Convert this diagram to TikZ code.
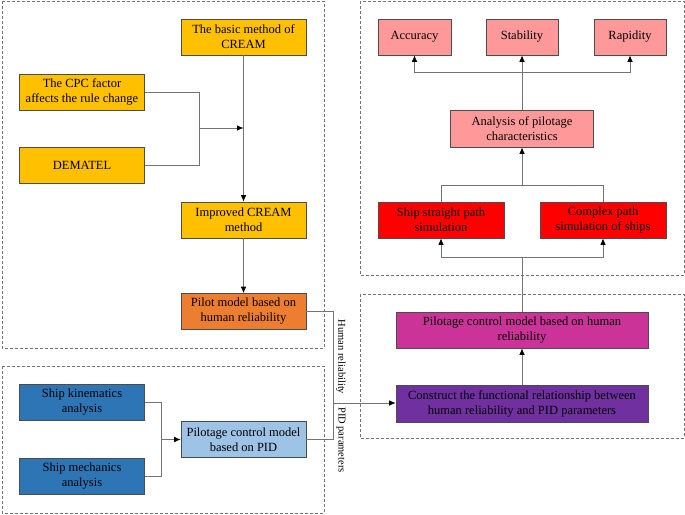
\documentclass[tikz,border=0pt]{standalone}
\usepackage{fontspec}
\setmainfont{Liberation Serif}
\usetikzlibrary{arrows.meta}
\definecolor{creamyellow}{HTML}{FFC000}
\definecolor{pilotorange}{HTML}{ED7D31}
\definecolor{shipblue}{HTML}{2E75B6}
\definecolor{pidblue}{HTML}{9DC3E6}
\definecolor{evalpink}{HTML}{FF9999}
\definecolor{simred}{HTML}{FF0000}
\definecolor{modelmagenta}{HTML}{CC3399}
\definecolor{funcpurple}{HTML}{7030A0}
\tikzstyle{block}=[draw=black!70, line width=0.6pt, inner sep=0, minimum width=125pt, minimum height=36pt, align=center, font=\fontsize{12.5}{15}\selectfont]
\tikzstyle{wideblock}=[block, minimum width=252pt]
\tikzstyle{smallblock}=[block, minimum width=72pt]
\tikzstyle{link}=[draw=black!55, line width=0.8pt]
\tikzstyle{arrow}=[link, -{Latex[length=6.5pt, width=5.5pt, black]}]
\tikzstyle{group}=[draw=black!55, line width=0.6pt, dash pattern=on 3pt off 2pt]
\tikzstyle{sidelabel}=[rotate=-90, inner sep=0, font=\fontsize{10.5}{12}\selectfont]

\begin{document}
\begin{tikzpicture}[x=1pt, y=-1pt]
    \useasboundingbox (0, 0) rectangle (685, 514);
    % dashed groups
    \draw[group] (2, 1) rectangle (324, 348);
    \draw[group] (2, 366) rectangle (324, 513);
    \draw[group] (360, 1) rectangle (684, 275);
    \draw[group] (360, 294) rectangle (684, 438);
    % left part
    \node[block, fill=creamyellow]  (basic)    at (243.5, 37)    {The basic method of\\CREAM};
    \node[block, fill=creamyellow]  (cpc)      at (82, 92)       {The CPC factor\\affects the rule change};
    \node[block, fill=creamyellow]  (dematel)  at (82, 165)      {DEMATEL};
    \node[block, fill=creamyellow]  (improved) at (243.5, 220)   {Improved CREAM\\method};
    \node[block, fill=pilotorange]  (pilot)    at (243.5, 311.5) {Pilot model based on\\human reliability};
    \node[block, fill=shipblue]     (kin)      at (82, 402.5)    {Ship kinematics\\analysis};
    \node[block, fill=shipblue]     (mech)     at (82, 476)      {Ship mechanics\\analysis};
    \node[block, fill=pidblue]      (pid)      at (243.5, 439.5) {Pilotage control model\\based on PID};
    % right part
    \node[smallblock, fill=evalpink, minimum width=73pt] (acc)  at (414.5, 37) {Accuracy};
    \node[smallblock, fill=evalpink] (stab)     at (522, 37)      {Stability};
    \node[smallblock, fill=evalpink] (rap)      at (630, 37)      {Rapidity};
    \node[block, fill=evalpink, minimum width=143pt, minimum height=37pt] (analysis) at (522, 128.5) {Analysis of pilotage\\characteristics};
    \node[block, fill=simred, minimum width=126pt] (straight) at (441, 220) {Ship straight path\\simulation};
    \node[block, fill=simred, minimum width=126pt] (complex)  at (603, 220) {Complex path\\simulation of ships};
    \node[wideblock, fill=modelmagenta] (hmodel) at (522, 330) {Pilotage control model based on human\\reliability};
    \node[wideblock, fill=funcpurple, minimum height=37pt] (func) at (522, 403.5) {Construct the functional relationship between\\human reliability and PID parameters};
    % side labels
    \node[sidelabel] (hrlabel)  at (341, 357) {Human reliability};
    \node[sidelabel] (pidlabel) at (341, 440) {PID parameters};
    % junctions
    \coordinate (j1) at (199, 128);
    \coordinate (j2) at (161, 439.5);
    \coordinate (hr) at (333, 403);
    \coordinate (j3) at (522, 257);
    \coordinate (j4) at (522, 185);
    \coordinate (j5) at (522, 72);
    % connectors
    \draw[arrow] (basic) -- (improved);
    \draw[arrow] (improved) -- (pilot);
    \draw[link] (cpc.east) -| (j1);
    \draw[link] (dematel.east) -| (j1);
    \draw[arrow] (j1) -- (j1 -| basic.south);
    \draw[link] (kin.east) -| (j2);
    \draw[link] (mech.east) -| (j2);
    \draw[arrow] (j2) -- (pid.west);
    \draw[link] (pilot.east) -| (hr);
    \draw[link] (pid.east) -| (hr);
    \draw[arrow] (hr) -- (hr -| func.west);
    \draw[arrow] (func) -- (hmodel);
    \draw[link] (hmodel.north) -- (j3);
    \draw[arrow] (j3) -| (straight.south);
    \draw[arrow] (j3) -| (complex.south);
    \draw[link] (straight.north) |- (j4);
    \draw[link] (complex.north) |- (j4);
    \draw[arrow] (j4) -- (analysis.south);
    \draw[link] (analysis.north) -- (j5);
    \draw[arrow] (j5) -| (acc.south);
    \draw[arrow] (j5) -- (stab.south);
    \draw[arrow] (j5) -| (rap.south);
\end{tikzpicture}
\end{document}
